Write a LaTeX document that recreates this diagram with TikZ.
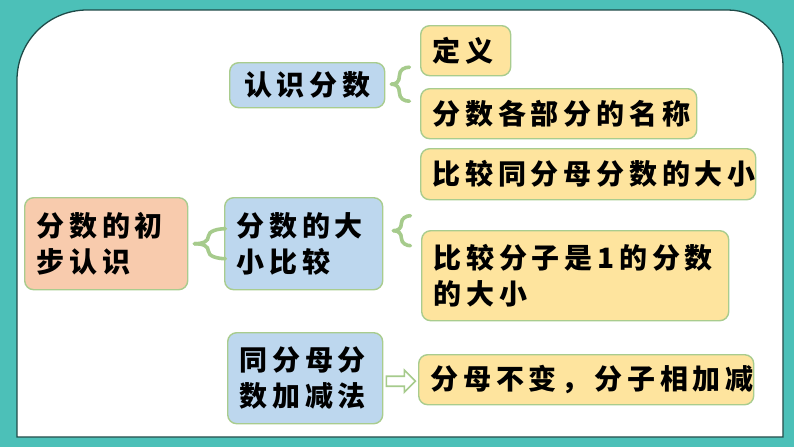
\documentclass[tikz,border=0pt]{standalone}
\usepackage{fontspec}
\newfontfamily\cjk{Noto Sans CJK SC}[LetterSpace=17]
\usetikzlibrary{calc}
\usepackage{xcolor}
\definecolor{bgteal}{HTML}{4CC0B8}
\definecolor{panelline}{HTML}{1E4B48}
\definecolor{boxline}{HTML}{A9CC8E}
\definecolor{curlgreen}{HTML}{A6CB8C}
\definecolor{bluefill}{HTML}{BDD7EE}
\definecolor{yellowfill}{HTML}{FEE49E}
\definecolor{salmonfill}{HTML}{F8CBAD}

\begin{document}
\begin{tikzpicture}[x=1pt,y=-1pt,
  box/.style={draw=boxline,line width=1.4pt,rounded corners=9pt,anchor=north west,
    inner xsep=12pt,inner ysep=0pt,align=left,
    font=\cjk\bfseries\fontsize{28}{36}\selectfont},
  curl/.style={draw=curlgreen,line width=3.6pt,line cap=round}]
  % background and white panel
  \useasboundingbox[fill=bgteal] (0,0) rectangle (794,447);
  \draw[panelline,line width=1.3pt,fill=white] (17,437) -- (17,80)
    arc[start angle=180,end angle=90,radius=70pt] -- (728,10)
    arc[start angle=90,end angle=0,radius=55pt] -- (783,437) -- cycle;

  % left part
  \node[box,fill=salmonfill,text width=139pt,minimum height=92pt] (top) at (24,197) {分数的初\\步认识};
  \node[box,fill=bluefill,text width=131pt,minimum height=45pt,align=center] (rs) at (229,62) {认识分数};
  \node[box,fill=bluefill,text width=134pt,minimum height=92pt] (dx) at (224,197) {分数的大\\小比较};
  \node[box,fill=bluefill,text width=131pt,minimum height=91pt] (jjf) at (227,332) {同分母分\\数加减法};

  % right part
  \node[box,fill=yellowfill,text width=66pt,minimum height=50pt] (dy) at (420,25) {定义};
  \node[box,fill=yellowfill,text width=252pt,minimum height=50pt] (mc) at (420,88) {分数各部分的名称};
  \node[box,fill=yellowfill,text width=311pt,minimum height=51pt] (tfm) at (420,148) {比较同分母分数的大小};
  \node[box,fill=yellowfill,text width=283pt,minimum height=90pt] (fz) at (421,230) {比较分子是1的分数\\的大小};
  \node[box,fill=yellowfill,text width=311pt,minimum height=50pt] (bb) at (418,354) {分母不变，分子相加减};

  % braces
  \coordinate (c1) at ($(rs.east)+(6,-1)$);
  \draw[curl] (c1) .. controls +(5,0) and +(0,6) .. ++(8,-8.5) .. controls +(0,-6) and +(-5,0) .. ++(10,-8.5);
  \draw[curl] (c1) .. controls +(5,0) and +(0,-6) .. ++(8,8.5) .. controls +(0,6) and +(-5,0) .. ++(10,8.5);

  \coordinate (c2) at ($(top.east)+(6,0)$);
  \draw[curl] (c2) .. controls +(9,0) and +(0,5) .. ++(14,-7.5) .. controls +(0,-5) and +(-8,0) .. ++(17,-7.5);
  \draw[curl] (c2) .. controls +(9,0) and +(0,-5) .. ++(14,7.5) .. controls +(0,5) and +(-8,0) .. ++(17,7.5);

  \coordinate (c3) at ($(dx.east)+(10,-13)$);
  \draw[curl] (c3) .. controls +(5,0) and +(0,5) .. ++(8,-7.5) .. controls +(0,-5) and +(-4,0) .. ++(9,-7.5);
  \draw[curl] (c3) .. controls +(5,0) and +(0,-5) .. ++(8,7.5) .. controls +(0,5) and +(-4,0) .. ++(9,7.5);

  % hollow arrow
  \coordinate (a1) at ($(jjf.east)+(3,3)$);
  \draw[curlgreen,line width=1.6pt,fill=white,line join=miter]
    ($(a1)+(0,-5)$) -- ++(18,0) -- ++(0,-6) -- ++(11,11) -- ++(-11,11) -- ++(0,-6) -- ++(-18,0) -- cycle;
\end{tikzpicture}
\end{document}
